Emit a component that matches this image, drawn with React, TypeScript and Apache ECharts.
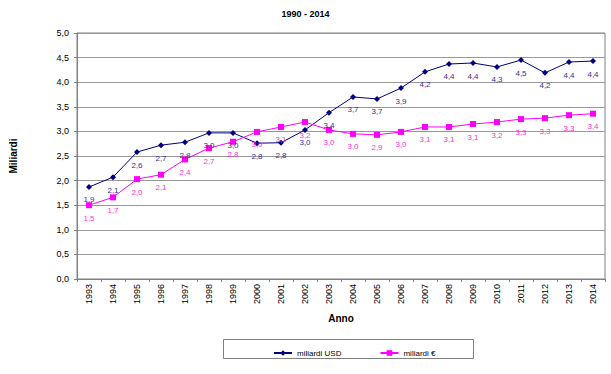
import React, { useEffect, useRef } from "react";
import * as echarts from "echarts";

const years = ["1993","1994","1995","1996","1997","1998","1999","2000","2001","2002","2003","2004","2005","2006","2007","2008","2009","2010","2011","2012","2013","2014"];
const usd = [1.87,2.07,2.58,2.72,2.78,2.97,2.97,2.76,2.77,3.03,3.38,3.70,3.66,3.88,4.21,4.37,4.39,4.31,4.45,4.19,4.41,4.43];
const eur = [1.50,1.66,2.03,2.12,2.43,2.66,2.79,2.99,3.09,3.19,3.03,2.95,2.93,2.99,3.09,3.09,3.15,3.19,3.25,3.27,3.33,3.36];
const yTicks = [0, 0.5, 1, 1.5, 2, 2.5, 3, 3.5, 4, 4.5, 5];

const fmt = (v: number) => v.toFixed(1).replace(".", ",");
const FONT = "Liberation Sans, Arial, sans-serif";

export default function App() {
  const ref = useRef<HTMLDivElement>(null);
  useEffect(() => {
    const chart = echarts.init(ref.current!, null, { renderer: "svg" });
    chart.setOption({
      animation: false,
      backgroundColor: "#fff",
      textStyle: { fontFamily: FONT },
      title: {
        text: "1990 - 2014",
        left: "center",
        top: 4,
        textStyle: { fontSize: 9, fontWeight: "bold", color: "#000", fontFamily: FONT },
      },
      grid: {
        left: 71, right: 6, top: 33, bottom: 95,
        show: true, borderColor: "#808080", borderWidth: 1, backgroundColor: "#fff",
      },
      legend: {
        left: 268, top: 344,
        itemGap: 38, itemWidth: 18, itemHeight: 7,
        textStyle: { fontSize: 8, color: "#000", fontFamily: FONT },
        data: ["miliardi USD", "miliardi €"],
      },
      graphic: [
        {
          type: "rect",
          shape: { x: 223.5, y: 339.5, width: 250, height: 19 },
          style: { fill: "none", stroke: "#808080", lineWidth: 1 },
          z: 0,
        },
      ],
      xAxis: {
        type: "category",
        data: years,
        boundaryGap: true,
        name: "Anno",
        nameLocation: "middle",
        nameGap: 34,
        nameTextStyle: { fontSize: 10, fontWeight: "bold", color: "#000", fontFamily: FONT },
        axisLine: { lineStyle: { color: "#808080" } },
        axisTick: { show: true, length: 3, lineStyle: { color: "#808080" } },
        axisLabel: { rotate: 90, fontSize: 9, color: "#000", margin: 5, fontFamily: FONT },
      },
      yAxis: {
        type: "value",
        min: 0, max: 5, interval: 0.5,
        name: "Miliardi",
        nameLocation: "middle",
        nameGap: 59,
        nameTextStyle: { fontSize: 10, fontWeight: "bold", color: "#000", fontFamily: FONT },
        axisLine: { show: true, lineStyle: { color: "#808080" } },
        axisTick: { show: true, length: 3, lineStyle: { color: "#808080" } },
        axisLabel: {
          fontSize: 9, color: "#000", margin: 8, fontFamily: FONT,
          formatter: (v: number) => (yTicks.includes(v) ? fmt(v) : ""),
        },
        splitLine: { show: true, lineStyle: { color: "#999999", width: 1 } },
      },
      series: [
        {
          name: "miliardi USD",
          type: "line",
          data: usd,
          symbol: "diamond",
          symbolSize: 6,
          color: "#000080",
          lineStyle: { color: "#000080", width: 1 },
          itemStyle: { color: "#000080" },
          label: {
            show: true, position: "bottom", distance: 6,
            fontSize: 8, color: "#333399", fontFamily: FONT,
            formatter: (p: any) => fmt(p.value),
          },
        },
        {
          name: "miliardi €",
          type: "line",
          data: eur,
          symbol: "rect",
          symbolSize: 6,
          color: "#FF00FF",
          lineStyle: { color: "#FF00FF", width: 1 },
          itemStyle: { color: "#FF00FF" },
          label: {
            show: true, position: "bottom", distance: 6,
            fontSize: 8, color: "#FF33CC", fontFamily: FONT,
            formatter: (p: any) => fmt(p.value),
          },
        },
      ],
    });
    return () => chart.dispose();
  }, []);
  return (
    <div
      ref={ref}
      style={{ position: "fixed", left: 0, top: 0, width: 611, height: 374 }}
    />
  );
}
